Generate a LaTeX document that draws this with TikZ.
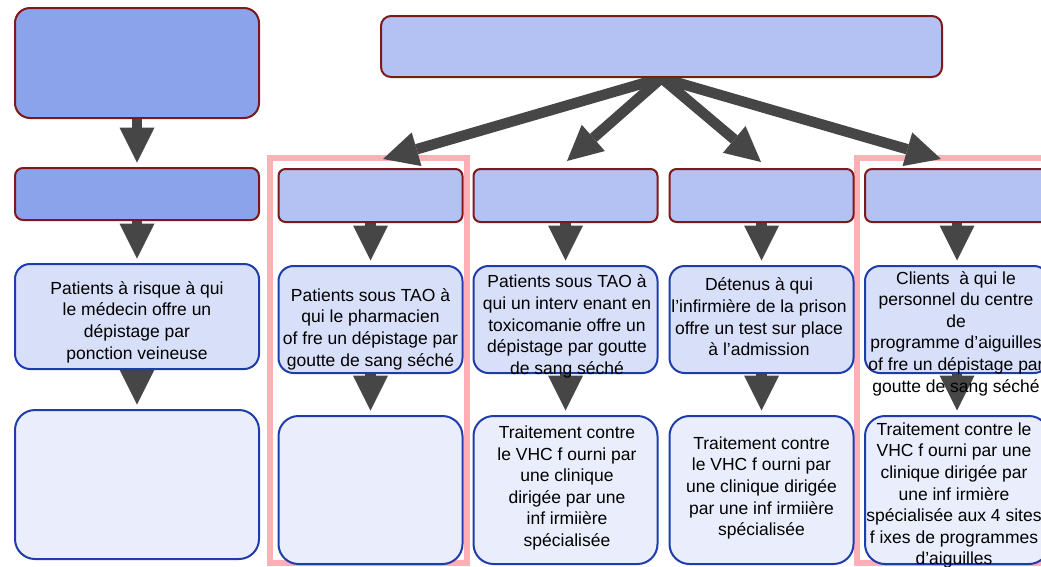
\documentclass[tikz,border=0pt]{standalone}
\usepackage{fontspec}
\setmainfont{Liberation Sans}
\usetikzlibrary{arrows.meta,backgrounds}
\definecolor{boxred}{HTML}{7D1919}
\definecolor{boxblue}{HTML}{1E3CAA}
\definecolor{darkfill}{HTML}{8BA3EB}
\definecolor{hdrfill}{HTML}{B3C2F2}
\definecolor{midfill}{HTML}{D8E0F9}
\definecolor{botfill}{HTML}{EAEEFC}
\definecolor{pinkframe}{HTML}{FFB0B5}
\definecolor{arrowgray}{HTML}{464646}
\begin{document}
\begin{tikzpicture}[x=1pt,y=-1pt,
  base/.style={inner sep=0pt, line width=2pt},
  lbox1/.style={base, draw=boxred, fill=darkfill, rounded corners=15pt, minimum width=244pt, minimum height=110pt},
  lbox2/.style={base, draw=boxred, fill=darkfill, rounded corners=8pt, minimum width=244pt, minimum height=52pt},
  topbox/.style={base, draw=boxred, fill=hdrfill, rounded corners=10pt, minimum width=561pt, minimum height=61pt},
  hdr/.style={base, draw=boxred, fill=hdrfill, rounded corners=7pt, minimum width=184pt, minimum height=53pt},
  midb/.style={base, draw=boxblue, fill=midfill, rounded corners=15pt, minimum width=184pt, minimum height=107pt},
  botb/.style={base, draw=boxblue, fill=botfill, rounded corners=20pt, minimum width=184pt, minimum height=148pt},
  txt/.style={align=center, font=\fontsize{17.5pt}{21.6pt}\selectfont, inner sep=0pt},
  flow/.style={draw=arrowgray, line width=10.5pt, -{Triangle[width=35pt,length=35pt,line width=0pt]}},
  vflow/.style={flow, shorten >=4.5pt},
  pinkfr/.style={draw=pinkframe, line width=6pt}
]
\useasboundingbox (0,0) rectangle (1041,566);
% left column
\node[lbox1] (l1) at (137,63) {};
\node[lbox2] (l2) at (137,194) {};
\node[midb, minimum width=244pt, minimum height=105pt] (l3) at (137,316.5) {};
\node[botb, minimum width=244pt, minimum height=149pt] (l4) at (137,484.5) {};
% top box
\node[topbox] (top) at (661.5,46.5) {};
% headers
\node[hdr] (h2) at (370.5,195.5) {};
\node[hdr] (h3) at (565.5,195.5) {};
\node[hdr] (h4) at (761.5,195.5) {};
\node[hdr] (h5) at (957,195.5) {};
% middle boxes
\node[midb] (m2) at (370.5,319.5) {};
\node[midb] (m3) at (565.5,319.5) {};
\node[midb] (m4) at (761.5,319.5) {};
\node[midb] (m5) at (957,319.5) {};
% bottom boxes
\node[botb] (b2) at (370.5,490) {};
\node[botb] (b3) at (565.5,490) {};
\node[botb] (b4) at (761.5,490) {};
\node[botb] (b5) at (957,490) {};
% arrow targets
\coordinate (t2) at (383,159);
\coordinate (t3) at (567,161);
\coordinate (t4) at (761,162);
\coordinate (t5) at (941,159);
% texts
\node[txt] (l3t) at (137,322) {Patients à risque à qui\\le médecin offre un\\dépistage par\\ponction veineuse};
\node[txt] (m2t) at (370.5,329) {Patients sous TAO à\\qui le pharmacien\\of fre un dépistage par\\goutte de sang séché};
\node[txt] (m3t) at (567,326.5) {Patients sous TAO à\\qui un interv enant en\\toxicomanie offre un\\dépistage par goutte\\de sang séché};
\node[txt] (m4t) at (759,317) {Détenus à qui\\l’infirmière de la prison\\offre un test sur place\\à l’admission};
\node[txt] (m5t) at (956,333.5) {Clients\ \ à qui le\\personnel du centre\\de\\programme d’aiguilles\\of fre un dépistage par\\goutte de sang séché};
\node[txt] (b3t) at (567,488) {Traitement contre\\le VHC f ourni par\\une clinique\\dirigée par une\\inf irmiière\\spécialisée};
\node[txt] (b4t) at (761.5,488) {Traitement contre\\le VHC f ourni par\\une clinique dirigée\\par une inf irmiière\\spécialisée};
\node[txt] (b5t) at (954,495.5) {Traitement contre le\\VHC f ourni par une\\clinique dirigée par\\une inf irmière\\spécialisée aux 4 sites\\f ixes de programmes\\d’aiguilles};
\begin{scope}[on background layer]
  \draw[pinkfr] (270,158) rectangle (466.5,563);
  \draw[pinkfr] (857,157.5) rectangle (1075,563);
  \draw[flow] (top.south) -- (t2);
  \draw[flow] (top.south) -- (t3);
  \draw[flow] (top.south) -- (t4);
  \draw[flow] (top.south) -- (t5);
  \draw[vflow] (l1.south) -- (l2.north);
  \draw[vflow] (l2.south) -- (l3.north);
  \draw[vflow] (l3.south) -- (l4.north);
  \draw[vflow] (h2.south) -- (m2.north);
  \draw[vflow] (h3.south) -- (m3.north);
  \draw[vflow] (h4.south) -- (m4.north);
  \draw[vflow] (h5.south) -- (m5.north);
  \draw[vflow] (m2.south) -- (b2.north);
  \draw[vflow] (m3.south) -- (b3.north);
  \draw[vflow] (m4.south) -- (b4.north);
  \draw[vflow] (m5.south) -- (b5.north);
\end{scope}
\end{tikzpicture}
\end{document}
